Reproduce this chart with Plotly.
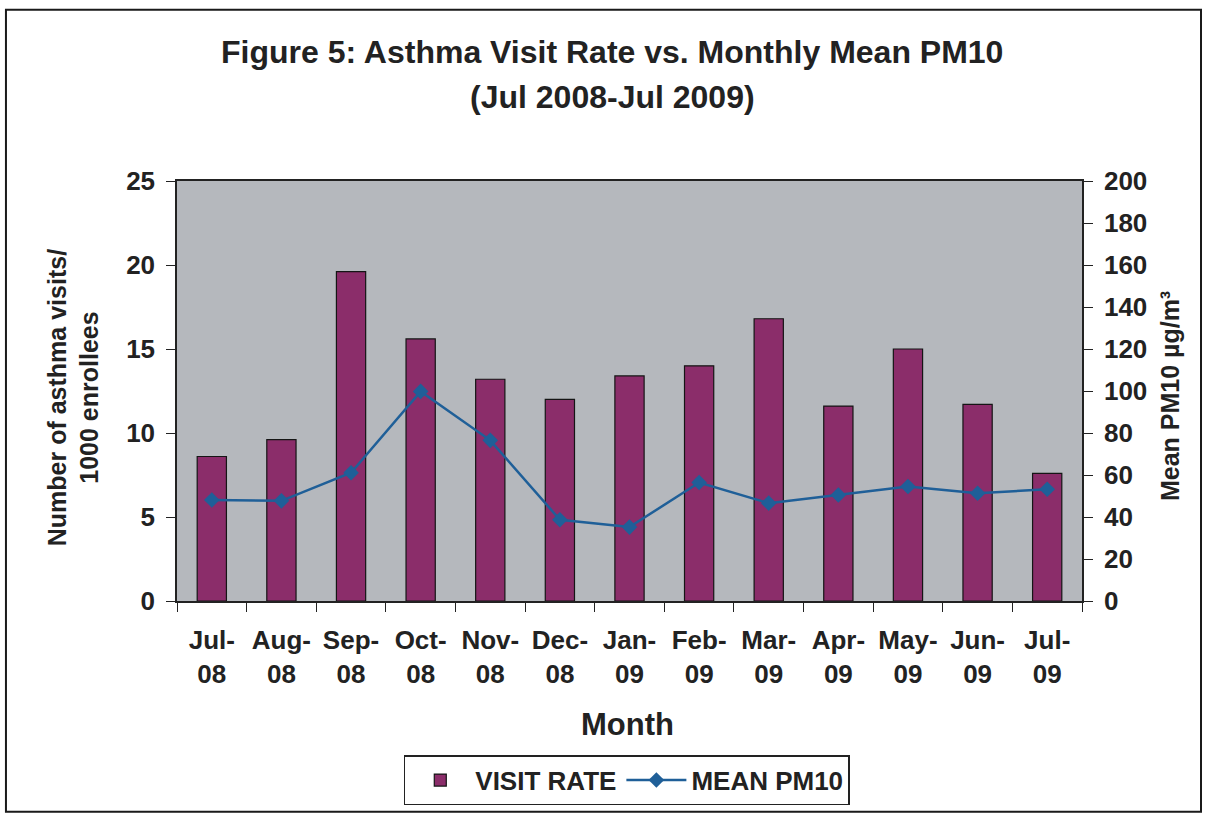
import plotly.graph_objects as go

months = ["Jul-<br>08", "Aug-<br>08", "Sep-<br>08", "Oct-<br>08", "Nov-<br>08", "Dec-<br>08",
          "Jan-<br>09", "Feb-<br>09", "Mar-<br>09", "Apr-<br>09", "May-<br>09", "Jun-<br>09", "Jul-<br>09"]
visit_rate = [8.6, 9.6, 19.6, 15.6, 13.2, 12.0, 13.4, 14.0, 16.8, 11.6, 15.0, 11.7, 7.6]
mean_pm10 = [48.1, 47.7, 61.1, 99.8, 76.5, 38.7, 35.2, 56.4, 46.6, 50.5, 54.5, 51.3, 53.2]

FONT = "Liberation Sans"
INK = "#222222"
BAR = "#8b2d6a"
LINE = "#1f5f98"


def bold(size):
    return dict(family=FONT, size=size, color=INK, weight="bold")


fig = go.Figure()
fig.add_trace(go.Bar(
    x=months, y=visit_rate, name="VISIT RATE",
    marker=dict(color=BAR, line=dict(color="#151515", width=1.2)),
    yaxis="y",
))
fig.add_trace(go.Scatter(
    x=months, y=mean_pm10, name="MEAN PM10", mode="lines+markers",
    line=dict(color=LINE, width=2.5),
    marker=dict(symbol="diamond", size=12, color=LINE),
    yaxis="y2",
))

fig.update_layout(
    width=1208, height=817,
    margin=dict(l=177, r=126, t=181, b=214),
    paper_bgcolor="white",
    plot_bgcolor="#b5b8bd",
    bargap=0.58,
    showlegend=True,
    xaxis=dict(
        type="category",
        range=[-0.5, len(months) - 0.5],
        tickson="boundaries",
        ticks="outside", ticklen=9, tickcolor=INK,
        ticklabelstandoff=15,
        showline=True, linecolor=INK, linewidth=1.5, mirror=True,
        showgrid=False,
        tickfont=bold(26),
    ),
    yaxis=dict(
        range=[0, 25], dtick=5,
        ticks="outside", ticklen=9, tickcolor=INK,
        ticklabelstandoff=6,
        showline=True, linecolor=INK, linewidth=1.5,
        showgrid=False, zeroline=False,
        tickfont=bold(26),
    ),
    yaxis2=dict(
        range=[0, 200], dtick=20,
        overlaying="y", side="right",
        ticks="outside", ticklen=9, tickcolor=INK,
        ticklabelstandoff=6,
        showline=True, linecolor=INK, linewidth=1.5,
        showgrid=False, zeroline=False,
        tickfont=bold(26),
    ),
    legend=dict(
        orientation="h",
        x=0.497, xanchor="center",
        y=-0.367, yanchor="top",
        bordercolor=INK, borderwidth=1.5,
        bgcolor="white",
        font=bold(26),
        itemwidth=60,
        tracegroupgap=0,
    ),
    annotations=[
        dict(text="Figure 5: Asthma Visit Rate vs. Monthly Mean PM10",
             xref="paper", yref="paper", x=0.481, y=1.306,
             xanchor="center", yanchor="middle", showarrow=False, font=bold(32)),
        dict(text="(Jul 2008-Jul 2009)",
             xref="paper", yref="paper", x=0.481, y=1.199,
             xanchor="center", yanchor="middle", showarrow=False, font=bold(32)),
        dict(text="Number of asthma visits/<br>1000 enrollees",
             xref="paper", yref="paper", x=-0.115, y=0.485, textangle=-90,
             xanchor="center", yanchor="middle", showarrow=False, font=bold(25)),
        dict(text="Mean PM10 µg/m³",
             xref="paper", yref="paper", x=1.0973, y=0.488, textangle=-90,
             xanchor="center", yanchor="middle", showarrow=False, font=bold(25)),
        dict(text="Month",
             xref="paper", yref="paper", x=0.498, y=-0.294,
             xanchor="center", yanchor="middle", showarrow=False, font=bold(31)),
    ],
    shapes=[dict(
        type="rect", xref="paper", yref="paper",
        x0=-0.189, x1=1.1315, y0=-0.502, y1=1.4076,
        line=dict(color="#1a1a1a", width=2),
        layer="below",
    )],
)

fig.write_html("out.html")
